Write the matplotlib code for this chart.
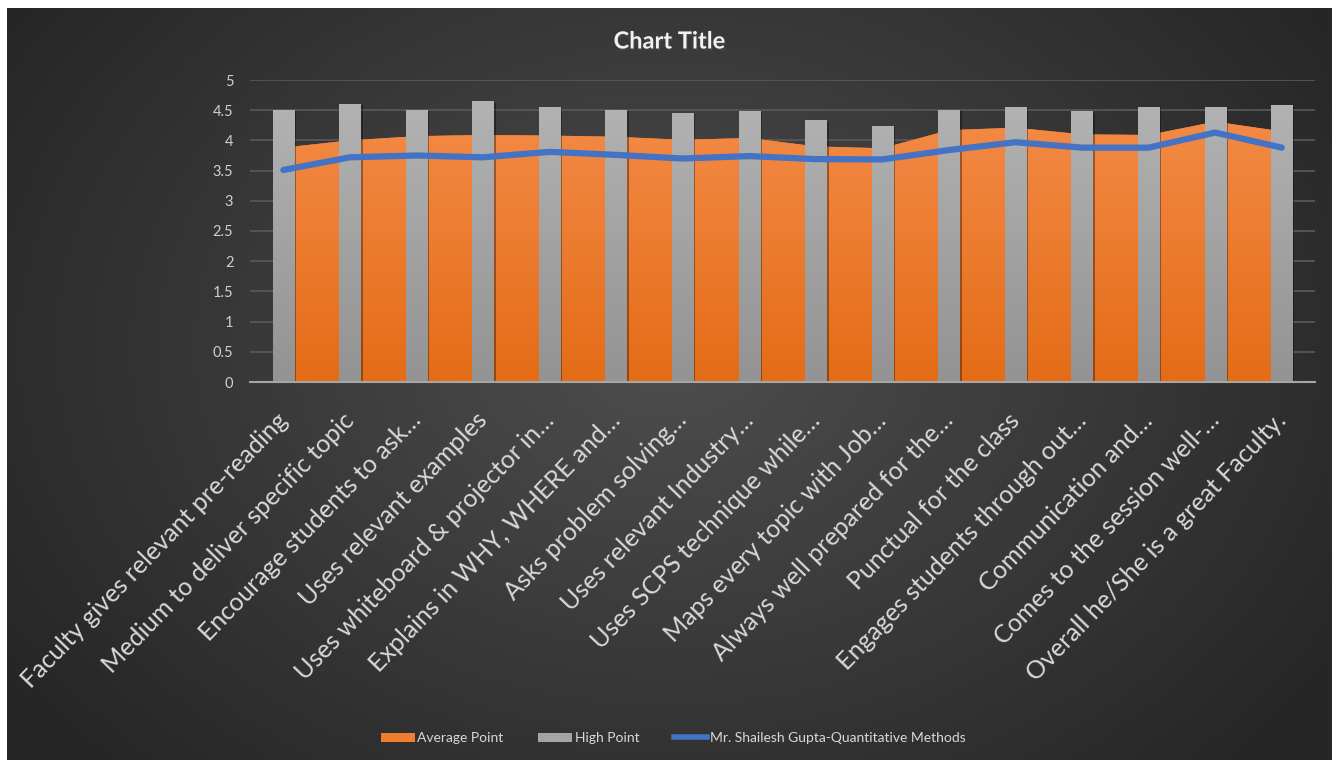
import numpy as np
import matplotlib.pyplot as plt
from matplotlib.patches import Patch, Polygon
from matplotlib.lines import Line2D
from matplotlib.colors import LinearSegmentedColormap
import matplotlib.patheffects as pe
from matplotlib.transforms import ScaledTranslation

plt.rcParams['font.family'] = ['Lato', 'DejaVu Sans']

categories = [
    "Faculty gives relevant pre-reading",
    "Medium to deliver specific topic",
    "Encourage students to ask…",
    "Uses relevant examples",
    "Uses whiteboard & projector in…",
    "Explains in WHY, WHERE and…",
    "Asks problem solving…",
    "Uses relevant Industry…",
    "Uses SCPS technique while…",
    "Maps every topic with Job…",
    "Always well prepared for the…",
    "Punctual for the class",
    "Engages students through out…",
    "Communication and…",
    "Comes to the session well-…",
    "Overall he/She is a great Faculty.",
]
average_point = [3.88, 4.00, 4.07, 4.09, 4.08, 4.06, 4.01, 4.04,
                 3.90, 3.87, 4.17, 4.21, 4.10, 4.09, 4.31, 4.15]
high_point = [4.51, 4.61, 4.51, 4.65, 4.56, 4.51, 4.46, 4.49,
              4.33, 4.24, 4.51, 4.56, 4.48, 4.56, 4.56, 4.58]
faculty_score = [3.51, 3.72, 3.75, 3.72, 3.81, 3.76, 3.70, 3.74,
                 3.69, 3.685, 3.84, 3.97, 3.88, 3.88, 4.13, 3.88]
series_names = ["Average Point", "High Point",
                "Mr. Shailesh Gupta-Quantitative Methods"]
yticks = np.arange(0, 5.01, 0.5)

W, H = 1339, 760
fig = plt.figure(figsize=(W / 100, H / 100), dpi=100)
fig.patch.set_facecolor('white')

# dark radial background panel
bg = fig.add_axes([7 / W, 0, (1332 - 7) / W, 752 / H])
yy, xx = np.mgrid[0:1:300j, 0:1:600j]
r = np.sqrt(((xx - 0.5) / 0.6) ** 2 + ((yy - 0.45) / 0.8) ** 2)
bg_cmap = LinearSegmentedColormap.from_list('bg', ['#4e4e4e', '#262626'])
bg.imshow(np.clip(r, 0, 1), cmap=bg_cmap, aspect='auto', extent=[0, 1, 0, 1])
bg.axis('off')

ax = fig.add_axes([250 / W, 1 - 382 / H, 1065 / W, 302 / H])
ax.patch.set_alpha(0)
x = np.arange(len(categories))
grad = np.linspace(1, 0, 256).reshape(-1, 1)

# area (Average Point) with vertical gradient
orange_cmap = LinearSegmentedColormap.from_list('or', ['#e46c17', '#f58e4c'])
verts = [(x[0], 0)] + list(zip(x, average_point)) + [(x[-1], 0)]
area = Polygon(verts, closed=True, facecolor='#ef7d2f', edgecolor='none', zorder=1)
ax.add_patch(area)
im = ax.imshow(grad[::-1], extent=[x[0], x[-1], 0, 5], aspect='auto',
               cmap=orange_cmap, origin='lower', zorder=1.1)
im.set_clip_path(area)

# bars (High Point) with gradient
gray_cmap = LinearSegmentedColormap.from_list('gr', ['#939393', '#b5b5b5'])
bw = 0.32
bars = ax.bar(x, high_point, width=bw, color='#a5a5a5', zorder=2,
              path_effects=[pe.SimplePatchShadow(offset=(1.5, -1), alpha=0.35,
                                                  shadow_rgbFace='black'),
                            pe.Normal()])
for b in bars:
    bim = ax.imshow(grad[::-1], extent=[b.get_x(), b.get_x() + bw, 0, 5],
                    aspect='auto', cmap=gray_cmap, origin='lower', zorder=2.1)
    bim.set_clip_path(b)

# line
ax.plot(x, faculty_score, color='#4472c4', lw=4.5, zorder=4,
        solid_capstyle='round', solid_joinstyle='round')

ax.set_xlim(-0.5, len(categories) - 0.5)
ax.set_ylim(0, 5)
ax.set_yticks(yticks)
ax.set_yticklabels([f"{v:g}" for v in yticks])
ax.yaxis.grid(True, color='#5a5a5a', lw=1.2, zorder=0)
ax.set_axisbelow(True)
for s in ['top', 'right', 'left']:
    ax.spines[s].set_visible(False)
ax.spines['bottom'].set_color('#a6a6a6')
ax.spines['bottom'].set_linewidth(1.5)
ax.spines['bottom'].set_zorder(5)
ax.tick_params(axis='y', length=0, pad=12, labelsize=10.5, labelcolor='#d0d0d0')
ax.tick_params(axis='x', length=0, pad=19, labelsize=18, labelcolor='#d9d9d9')
ax.set_xticks(x)
ax.set_xticklabels(categories, rotation=46, ha='right', rotation_mode='anchor')
off = ScaledTranslation(-8 / 100, 0, fig.dpi_scale_trans)
for lab in ax.get_xticklabels():
    lab.set_transform(lab.get_transform() + off)

fig.text(0.5, 1 - 41 / H, "Chart Title", ha='center', va='center',
         fontsize=17, fontweight='bold', color='#f2f2f2',
         path_effects=[pe.withSimplePatchShadow(offset=(1, -1.5), alpha=0.6)])

handles = [Patch(facecolor='#ef7d2f', edgecolor='none'),
           Patch(facecolor='#a5a5a5', edgecolor='none'),
           Line2D([0], [0], color='#4472c4', lw=4)]
fig.legend(handles, series_names, loc='center', bbox_to_anchor=(0.503, 1 - 738 / H),
           ncol=3, frameon=False, fontsize=10, labelcolor='#d9d9d9',
           handlelength=2.4, handleheight=0.6, handletextpad=0.2, columnspacing=2.5)

fig.savefig('out.png', dpi=100)
